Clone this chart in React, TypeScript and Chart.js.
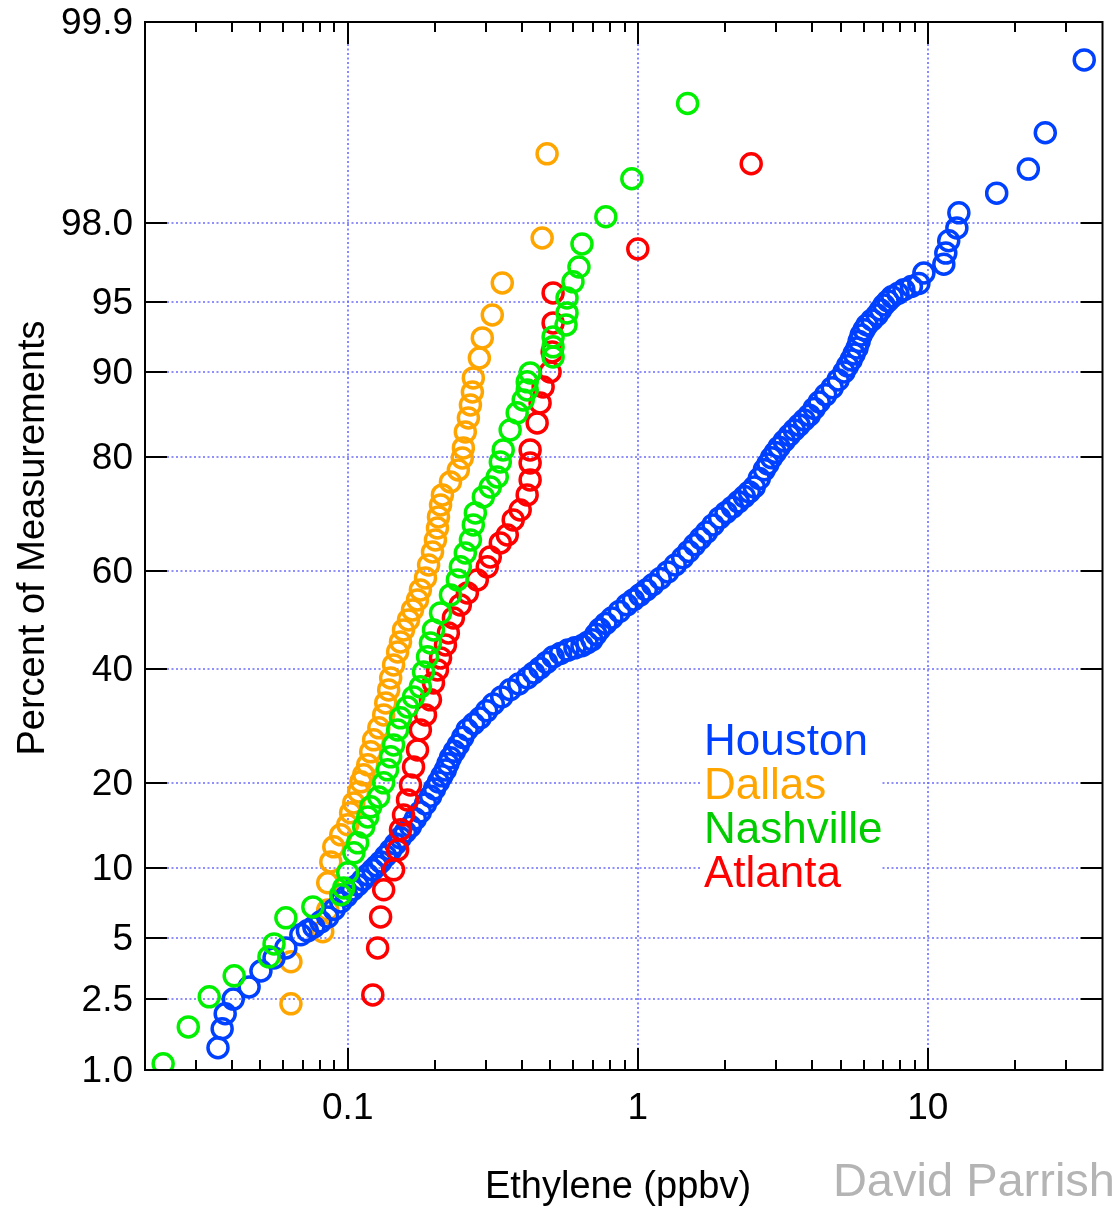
import React, { useEffect, useRef } from "react";
import { Chart, registerables } from "chart.js";
Chart.register(...registerables);

// ---------- data (concentration in ppbv, cumulative percent) ----------
const houstonX = [0.0357, 0.0369, 0.0378, 0.0403, 0.0457, 0.0502, 0.0557, 0.0612, 0.0689, 0.0726, 0.0764, 0.0807, 0.0853, 0.0898, 0.0946, 0.0992, 0.104, 0.1082, 0.1126, 0.1172, 0.122, 0.126, 0.13, 0.1352, 0.1406, 0.1462, 0.152, 0.158, 0.1645, 0.171, 0.178, 0.1853, 0.193, 0.1992, 0.2055, 0.2112, 0.217, 0.2215, 0.226, 0.2332, 0.2406, 0.2492, 0.258, 0.2716, 0.286, 0.3013, 0.3175, 0.3395, 0.363, 0.3886, 0.416, 0.4375, 0.46, 0.4846, 0.5105, 0.5413, 0.574, 0.607, 0.642, 0.668, 0.695, 0.7172, 0.74, 0.7761, 0.814, 0.864, 0.917, 0.9652, 1.016, 1.0696, 1.126, 1.195, 1.268, 1.3456, 1.428, 1.497, 1.57, 1.646, 1.726, 1.8176, 1.914, 2.0143, 2.12, 2.2225, 2.33, 2.423, 2.52, 2.6229, 2.73, 2.809, 2.89, 2.9786, 3.07, 3.197, 3.33, 3.4622, 3.6, 3.747, 3.9, 4.057, 4.22, 4.444, 4.68, 4.905, 5.14, 5.288, 5.44, 5.568, 5.7, 5.794, 5.89, 6.028, 6.17, 6.42, 6.68, 6.867, 7.06, 7.286, 7.52, 7.886, 8.27, 8.775, 9.31, 9.69, 11.35, 11.53, 11.8, 12.59, 12.79, 17.27, 22.2, 25.4, 34.6];
const houstonPct = [1.35, 1.73, 2.09, 2.5, 2.89, 3.48, 4.03, 4.5, 5.18, 5.4, 5.63, 5.93, 6.24, 6.73, 7.25, 7.69, 8.15, 8.54, 8.95, 9.38, 9.82, 10.18, 10.55, 11.12, 11.7, 12.34, 13.0, 13.65, 14.3, 15.18, 16.05, 17.08, 18.1, 19.12, 20.1, 21.01, 21.9, 22.84, 23.8, 24.84, 25.9, 27.19, 28.5, 29.56, 30.6, 31.92, 33.2, 34.53, 35.9, 37.03, 38.2, 39.2, 40.2, 41.31, 42.4, 43.13, 43.8, 44.26, 44.7, 45.28, 45.9, 47.02, 48.1, 49.28, 50.4, 51.75, 53.1, 54.11, 55.1, 56.16, 57.2, 58.49, 59.8, 61.18, 62.6, 63.83, 65.1, 66.33, 67.5, 68.83, 70.1, 71.07, 72.0, 72.91, 73.8, 74.59, 75.4, 76.76, 78.1, 78.99, 79.9, 80.66, 81.4, 82.25, 83.0, 83.69, 84.3, 84.93, 85.5, 86.28, 87.0, 87.76, 88.5, 89.26, 90.0, 90.54, 91.05, 91.54, 92.0, 92.5, 92.96, 93.31, 93.63, 93.95, 94.25, 94.54, 94.82, 95.04, 95.25, 95.42, 95.6, 95.76, 95.9, 96.35, 96.7, 97.1, 97.5, 97.86, 98.23, 98.63, 99.01, 99.41, 99.81];

const dallasX = [0.0637, 0.0637, 0.082, 0.0853, 0.0853, 0.0874, 0.0895, 0.0946, 0.1, 0.1023, 0.1049, 0.109, 0.111, 0.1135, 0.1172, 0.12, 0.1228, 0.128, 0.133, 0.1352, 0.1384, 0.1406, 0.1439, 0.1486, 0.152, 0.1557, 0.162, 0.1672, 0.174, 0.178, 0.1854, 0.19, 0.196, 0.2006, 0.2039, 0.2055, 0.2089, 0.212, 0.226, 0.2406, 0.2483, 0.2504, 0.2543, 0.2606, 0.2648, 0.269, 0.271, 0.2843, 0.291, 0.315, 0.341, 0.468, 0.4867];
const dallasPct = [2.36, 3.86, 5.35, 6.69, 8.71, 10.55, 12.04, 13.33, 14.48, 15.94, 17.21, 18.7, 20.13, 21.16, 22.69, 24.76, 26.76, 28.84, 31.17, 33.4, 35.87, 38.21, 40.8, 43.43, 45.47, 47.94, 50.0, 52.06, 54.12, 56.16, 58.59, 61.18, 63.72, 66.03, 68.26, 70.27, 72.38, 74.09, 76.21, 78.08, 79.87, 81.3, 83.44, 85.17, 86.67, 88.06, 89.45, 91.21, 92.75, 94.25, 95.92, 97.58, 99.2];

const nashvilleX = [0.0231, 0.0282, 0.0333, 0.0406, 0.0535, 0.0557, 0.0612, 0.0758, 0.0946, 0.0969, 0.1, 0.105, 0.1082, 0.1135, 0.1172, 0.12, 0.1278, 0.133, 0.1372, 0.1406, 0.1439, 0.1486, 0.152, 0.1607, 0.1686, 0.178, 0.1825, 0.1884, 0.1928, 0.1975, 0.2089, 0.226, 0.2388, 0.2445, 0.2543, 0.2648, 0.271, 0.2754, 0.2934, 0.31, 0.3277, 0.3357, 0.3436, 0.363, 0.3839, 0.4027, 0.4157, 0.4157, 0.4254, 0.5105, 0.5105, 0.5105, 0.5657, 0.5702, 0.5702, 0.5978, 0.6268, 0.642, 0.776, 0.9537, 1.485];
const nashvillePct = [1.09, 1.77, 2.57, 3.29, 4.08, 4.7, 6.18, 6.9, 7.77, 8.3, 9.56, 11.43, 12.46, 14.23, 15.43, 16.7, 18.0, 19.98, 21.92, 23.95, 25.91, 28.48, 30.63, 32.65, 34.53, 36.47, 39.41, 42.43, 45.27, 47.94, 51.44, 55.14, 58.19, 60.8, 63.53, 66.03, 68.83, 70.99, 73.75, 75.4, 77.0, 79.29, 81.02, 83.69, 85.77, 87.22, 88.27, 89.07, 89.91, 91.29, 92.09, 92.82, 93.63, 94.37, 95.19, 95.97, 96.59, 97.4, 98.14, 98.87, 99.62];

const atlantaX = [0.122, 0.1268, 0.1298, 0.133, 0.1439, 0.1486, 0.152, 0.1557, 0.1607, 0.1646, 0.1686, 0.174, 0.178, 0.1854, 0.1928, 0.1975, 0.2039, 0.2089, 0.2172, 0.2223, 0.2313, 0.2444, 0.2585, 0.2797, 0.3027, 0.31, 0.3357, 0.3548, 0.3719, 0.3931, 0.4155, 0.4254, 0.4254, 0.4254, 0.4498, 0.4604, 0.4716, 0.4985, 0.5065, 0.5105, 0.5105, 1.0, 2.46];
const atlantaPct = [2.63, 4.5, 6.24, 8.15, 9.82, 11.72, 13.9, 15.67, 17.61, 19.69, 22.37, 25.08, 28.48, 31.17, 33.97, 37.24, 39.8, 42.21, 44.86, 47.32, 50.41, 53.09, 55.55, 58.19, 60.8, 62.76, 65.47, 66.97, 69.74, 71.51, 74.09, 76.53, 79.13, 81.02, 84.57, 86.9, 88.57, 90.0, 91.7, 93.76, 95.45, 97.24, 99.08];

const seriesNames = ["Houston", "Dallas", "Nashville", "Atlanta"];
const yTickPct = [1.0, 2.5, 5, 10, 20, 40, 60, 80, 90, 95, 98.0, 99.9];
const yTickLabels = ["1.0", "2.5", "5", "10", "20", "40", "60", "80", "90", "95", "98.0", "99.9"];
const xTickValues = [0.1, 1, 10];
const xTickLabels = ["0.1", "1", "10"];
const xMinorTicks = [0.03, 0.04, 0.05, 0.06, 0.07, 0.08, 0.09, 0.2, 0.3, 0.4, 0.5, 0.6, 0.7, 0.8, 0.9, 2, 3, 4, 5, 6, 7, 8, 9, 20, 30];
const xTitle = "Ethylene (ppbv)";
const yTitle = "Percent of Measurements";
const credit = "David Parrish";

// ---------- styles ----------
const COLORS = { Houston: "#0040ff", Dallas: "#ffa500", Nashville: "#00f000", Atlanta: "#ff0000" };
const LEGEND_COLORS = { Houston: "#0040ff", Dallas: "#ffa500", Nashville: "#00cc00", Atlanta: "#ff0000" };
const GRID = "#6b6bff";
const FONT = "'Liberation Sans', Arial, Helvetica, sans-serif";

// inverse standard normal CDF (Acklam)
function probit(p: number): number {
  const a = [-3.969683028665376e1, 2.209460984245205e2, -2.759285104469687e2, 1.38357751867269e2, -3.066479806614716e1, 2.506628277459239];
  const b = [-5.447609879822406e1, 1.615858368580409e2, -1.556989798598866e2, 6.680131188771972e1, -1.328068155288572e1];
  const c = [-7.784894002430293e-3, -3.223964580411365e-1, -2.400758277161838, -2.549732539343734, 4.374664141464968, 2.938163982698783];
  const d = [7.784695709041462e-3, 3.224671290700398e-1, 2.445134137142996, 3.754408661907416];
  const pl = 0.02425;
  if (p < pl) {
    const q = Math.sqrt(-2 * Math.log(p));
    return (((((c[0] * q + c[1]) * q + c[2]) * q + c[3]) * q + c[4]) * q + c[5]) / ((((d[0] * q + d[1]) * q + d[2]) * q + d[3]) * q + 1);
  }
  if (p <= 1 - pl) {
    const q = p - 0.5;
    const r = q * q;
    return ((((((a[0] * r + a[1]) * r + a[2]) * r + a[3]) * r + a[4]) * r + a[5]) * q) / (((((b[0] * r + b[1]) * r + b[2]) * r + b[3]) * r + b[4]) * r + 1);
  }
  const q = Math.sqrt(-2 * Math.log(1 - p));
  return -(((((c[0] * q + c[1]) * q + c[2]) * q + c[3]) * q + c[4]) * q + c[5]) / ((((d[0] * q + d[1]) * q + d[2]) * q + d[3]) * q + 1);
}

function toPoints(xs: number[], ps: number[]) {
  return xs.map((x, i) => ({ x, y: probit(ps[i] / 100) }));
}

const MAJ = 22;
const MIN = 10;

const framePlugin = {
  id: "probFrame",
  beforeDatasetsDraw(chart: any) {
    const { ctx, chartArea, scales } = chart;
    const { left, right, top, bottom } = chartArea;
    const xs = scales.x;
    const ys = scales.y;
    ctx.save();
    ctx.strokeStyle = GRID;
    ctx.lineWidth = 1.6;
    ctx.setLineDash([2, 2.5]);
    yTickPct.forEach((p) => {
      if (p === 1.0 || p === 99.9) return;
      const py = Math.round(ys.getPixelForValue(probit(p / 100)));
      ctx.beginPath();
      ctx.moveTo(left + MAJ, py);
      ctx.lineTo(right - MAJ, py);
      ctx.stroke();
    });
    xTickValues.forEach((v) => {
      const px = Math.round(xs.getPixelForValue(v));
      ctx.beginPath();
      ctx.moveTo(px, top + MAJ);
      ctx.lineTo(px, bottom - MAJ);
      ctx.stroke();
    });
    ctx.setLineDash([]);
    // legend area
    ctx.fillStyle = "#ffffff";
    ctx.fillRect(702, 712, 180, 186);
    ctx.font = `44px ${FONT}`;
    ctx.textAlign = "left";
    ctx.textBaseline = "alphabetic";
    seriesNames.forEach((n, i) => {
      ctx.fillStyle = (LEGEND_COLORS as any)[n];
      ctx.fillText(n, 704, 755 + i * 44);
    });
    ctx.restore();
  },
  afterDatasetsDraw(chart: any) {
    const { ctx, chartArea, scales } = chart;
    const { left, right, top, bottom } = chartArea;
    const xs = scales.x;
    const ys = scales.y;
    ctx.save();
    ctx.strokeStyle = "#000";
    ctx.lineWidth = 2;
    ctx.strokeRect(left, top, right - left, bottom - top);
    ctx.beginPath();
    yTickPct.forEach((p) => {
      const py = Math.round(ys.getPixelForValue(probit(p / 100)));
      ctx.moveTo(left, py);
      ctx.lineTo(left + MAJ, py);
      ctx.moveTo(right, py);
      ctx.lineTo(right - MAJ, py);
    });
    xTickValues.forEach((v) => {
      const px = Math.round(xs.getPixelForValue(v));
      ctx.moveTo(px, bottom);
      ctx.lineTo(px, bottom - MAJ);
      ctx.moveTo(px, top);
      ctx.lineTo(px, top + MAJ);
    });
    xMinorTicks.forEach((v) => {
      const px = Math.round(xs.getPixelForValue(v));
      ctx.moveTo(px, bottom);
      ctx.lineTo(px, bottom - MIN);
      ctx.moveTo(px, top);
      ctx.lineTo(px, top + MIN);
    });
    ctx.stroke();

    ctx.fillStyle = "#000";
    ctx.font = `37px ${FONT}`;
    ctx.textAlign = "right";
    ctx.textBaseline = "middle";
    yTickPct.forEach((p, i) => {
      const py = ys.getPixelForValue(probit(p / 100));
      ctx.fillText(yTickLabels[i], 133, py + 2);
    });
    ctx.textAlign = "center";
    ctx.textBaseline = "alphabetic";
    xTickValues.forEach((v, i) => {
      const px = xs.getPixelForValue(v);
      ctx.fillText(xTickLabels[i], px, 1119);
    });

    ctx.font = `38px ${FONT}`;
    ctx.save();
    ctx.translate(44, 538);
    ctx.rotate(-Math.PI / 2);
    ctx.textAlign = "center";
    ctx.fillText(yTitle, 0, 0);
    ctx.restore();

    ctx.font = `38px ${FONT}`;
    ctx.textAlign = "center";
    ctx.fillText(xTitle, 618, 1198);

    ctx.font = `47px ${FONT}`;
    ctx.fillStyle = "#b4b4b4";
    ctx.textAlign = "right";
    ctx.fillText(credit, 1115, 1196);
    ctx.restore();
  },
};

export default function App() {
  const ref = useRef<HTMLCanvasElement | null>(null);
  useEffect(() => {
    if (!ref.current) return;
    const mk = (name: string, xs: number[], ps: number[], order: number) => ({
      label: name,
      data: toPoints(xs, ps),
      showLine: false,
      pointStyle: "circle",
      pointRadius: 10,
      pointHoverRadius: 10,
      pointBorderWidth: 3.5,
      pointBackgroundColor: "rgba(0,0,0,0)",
      pointBorderColor: (COLORS as any)[name],
      borderColor: (COLORS as any)[name],
      backgroundColor: "rgba(0,0,0,0)",
      order,
    });
    const chart = new Chart(ref.current, {
      type: "scatter",
      data: {
        datasets: [
          mk("Nashville", nashvilleX, nashvillePct, 0),
          mk("Atlanta", atlantaX, atlantaPct, 1),
          mk("Houston", houstonX, houstonPct, 2),
          mk("Dallas", dallasX, dallasPct, 3),
        ],
      },
      options: {
        animation: false,
        responsive: false,
        devicePixelRatio: 1,
        layout: { padding: { left: 145, right: 11, top: 22, bottom: 138 } },
        plugins: { legend: { display: false }, tooltip: { enabled: false } },
        events: [],
        scales: {
          x: { type: "logarithmic", min: 0.02, max: 40, display: false },
          y: { type: "linear", min: probit(0.01), max: probit(0.999), display: false },
        },
      },
      plugins: [framePlugin],
    });
    return () => chart.destroy();
  }, []);
  return (
    <div style={{ position: "fixed", left: 0, top: 0, width: 1116, height: 1208, background: "#fff" }}>
      <canvas ref={ref} width={1116} height={1208} style={{ width: 1116, height: 1208, display: "block" }} />
    </div>
  );
}
